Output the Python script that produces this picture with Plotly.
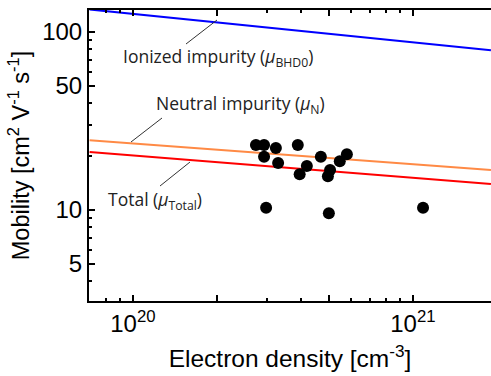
import plotly.graph_objects as go

# ---- data ----
density = [2.75e20, 2.94e20, 3.24e20, 2.94e20, 3.30e20, 3.88e20, 4.69e20, 4.18e20,
           3.94e20, 5.06e20, 4.97e20, 5.48e20, 5.81e20, 2.99e20, 5.01e20, 1.087e21]
mobility = [23.2, 23.2, 22.3, 19.9, 18.4, 23.2, 19.9, 17.7,
            15.9, 16.8, 15.5, 18.8, 20.6, 10.3, 9.6, 10.3]

line_density = [7.0e19, 1.9e21]
mu_ionized = [134.0, 79.0]
mu_neutral = [24.7, 16.8]
mu_total = [21.2, 14.0]

x_tickvals = [1e20, 2e20, 5e20, 1e21]
x_ticktext = ["10<sup>20</sup>", "", "", "10<sup>21</sup>"]
x_minor = [8e19, 9e19, 3e20, 4e20, 6e20, 7e20, 8e20, 9e20]
y_tickvals = [5, 10, 50, 100]
y_ticktext = ["5", "10", "50", "100"]
y_minor = [4, 6, 7, 8, 9, 20, 30, 40, 60, 70, 80, 90]

# ---- layout geometry (pixels) ----
W, H = 491, 376
L, R, T, B = 89, 0, 10, 75
pw, ph = W - L - R, H - T - B


def px(x):
    return (x - L) / pw


def py(y):
    return (H - B - y) / ph


fig = go.Figure()
fig.add_trace(go.Scatter(x=line_density, y=mu_ionized, mode="lines",
                         line=dict(color="#0000FF", width=2), showlegend=False))
fig.add_trace(go.Scatter(x=line_density, y=mu_neutral, mode="lines",
                         line=dict(color="#FF8A45", width=2), showlegend=False))
fig.add_trace(go.Scatter(x=line_density, y=mu_total, mode="lines",
                         line=dict(color="#FF0000", width=2), showlegend=False))
fig.add_trace(go.Scatter(x=density, y=mobility, mode="markers",
                         marker=dict(color="black", size=12), showlegend=False))

ann_font = dict(family="Open Sans", size=17.5, color="#222222")
labels = [
    ("Ionized impurity (<i>μ</i><sub>BHD0</sub>)", 121, 58),
    ("Neutral impurity (<i>μ</i><sub>N</sub>)", 154, 105),
    ("Total (<i>μ</i><sub>Total</sub>)", 106, 200),
]
for txt, x0, yc in labels:
    fig.add_annotation(text=txt, x=px(x0), y=py(yc), xref="paper", yref="paper",
                       xanchor="left", yanchor="middle", showarrow=False, font=ann_font)

leaders = [((186, 44), (217, 20)), ((162, 118), (131, 142)), ((190, 162), (160, 186))]
for (a, b) in leaders:
    fig.add_shape(type="line", xref="paper", yref="paper",
                  x0=px(a[0]), y0=py(a[1]), x1=px(b[0]), y1=py(b[1]),
                  line=dict(color="#333333", width=1))

axis_font = dict(family="Liberation Sans, Arial", size=24, color="black")
title_font = dict(family="Liberation Sans, Arial", size=24.5, color="black")
ytitle_font = dict(family="Liberation Sans, Arial", size=23.5, color="black")
fig.update_layout(
    width=W, height=H,
    margin=dict(l=L, r=R, t=T, b=B),
    paper_bgcolor="white", plot_bgcolor="white",
    xaxis=dict(type="log", range=[19.843, 21.279], automargin=False,
               tickmode="array", tickvals=x_tickvals, ticktext=x_ticktext,
               ticks="inside", ticklen=6, tickwidth=1.5, tickcolor="black",
               minor=dict(tickvals=x_minor, ticks="inside", ticklen=3, tickwidth=1.5,
                          tickcolor="black", showgrid=False),
               showline=True, linecolor="black", linewidth=2, mirror="ticks",
               showgrid=False, zeroline=False,
               tickfont=axis_font,
               title=dict(text="Electron density [cm<sup>-3</sup>]", font=title_font, standoff=14)),
    yaxis=dict(type="log", range=[0.489, 2.124], automargin=False,
               tickmode="array", tickvals=y_tickvals, ticktext=y_ticktext,
               ticks="inside", ticklen=6, tickwidth=1.5, tickcolor="black",
               minor=dict(tickvals=y_minor, ticks="inside", ticklen=3, tickwidth=1.5,
                          tickcolor="black", showgrid=False),
               showline=True, linecolor="black", linewidth=2, mirror=False,
               showgrid=False, zeroline=False,
               tickfont=axis_font,
               title=dict(text="Mobility [cm<sup>2</sup> V<sup>-1</sup> s<sup>-1</sup>]",
                          font=ytitle_font, standoff=6)),
)

fig.write_html("out.html", config={"displayModeBar": False},
               post_script="document.body.style.margin='0';")
